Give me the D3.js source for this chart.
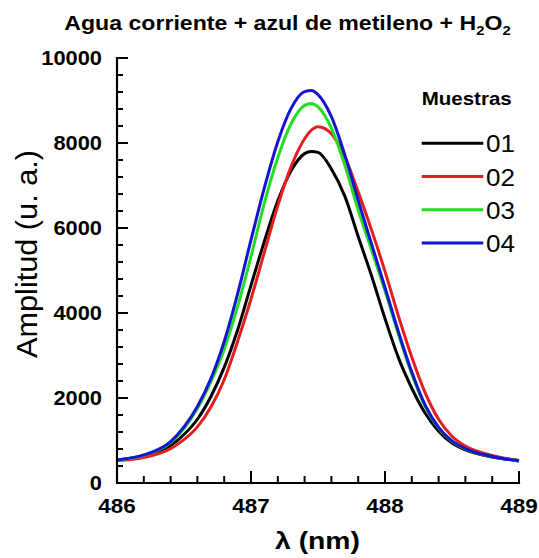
<!DOCTYPE html>
<html>
<head>
<meta charset="utf-8">
<script src="https://cdn.jsdelivr.net/npm/d3@7/dist/d3.min.js"></script>
<style>
  html, body { margin: 0; padding: 0; background: #fff; }
  svg { display: block; }
  text { font-family: "Liberation Sans", Arial, sans-serif; fill: #000; }
</style>
</head>
<body>
<svg id="chart" width="539" height="558"></svg>
<script>
// ---- data ----
const wavelength = [486.0, 486.2, 486.4, 486.5, 486.6, 486.7, 486.8, 486.9, 487.0, 487.1, 487.2, 487.3, 487.4, 487.45, 487.5, 487.6, 487.7, 487.8, 487.9, 488.0, 488.1, 488.2, 488.3, 488.4, 488.5, 488.6, 488.8, 489.0];
const muestra01 = [540, 640, 880, 1140, 1500, 2030, 2720, 3600, 4650, 5690, 6640, 7350, 7750, 7800, 7780, 7390, 6750, 5800, 4870, 3870, 2950, 2230, 1640, 1220, 940, 780, 610, 530];
const muestra02 = [530, 600, 810, 1020, 1320, 1780, 2430, 3330, 4330, 5430, 6530, 7450, 8100, 8300, 8385, 8220, 7680, 6850, 5950, 4980, 3930, 2960, 2120, 1500, 1100, 870, 650, 530];
const muestra03 = [540, 650, 950, 1280, 1750, 2380, 3150, 4150, 5330, 6590, 7660, 8460, 8885, 8930, 8850, 8350, 7480, 6420, 5480, 4520, 3500, 2560, 1800, 1290, 980, 800, 620, 520];
const muestra04 = [540, 660, 975, 1320, 1800, 2450, 3330, 4450, 5720, 6950, 8030, 8820, 9210, 9235, 9140, 8620, 7720, 6650, 5620, 4600, 3560, 2610, 1830, 1310, 990, 810, 625, 520];
const seriesNames = ["01", "02", "03", "04"];
const seriesColors = ["#000000", "#e41e1e", "#22dd22", "#1414d2"];
const yMajorTicks = [0, 2000, 4000, 6000, 8000, 10000];
const xMajorTicks = [486, 487, 488, 489];
const titleMain = "Agua corriente + azul de metileno + H";
const yLabel = "Amplitud (u. a.)";
const xLabel = "λ (nm)";
const legendTitle = "Muestras";

const seriesValues = [muestra01, muestra02, muestra03, muestra04];
const SX = 1.12; // horizontal stretch of the reference text

const svg = d3.select("#chart");
const x = d3.scaleLinear().domain([486, 489]).range([117, 519]);
const y = d3.scaleLinear().domain([0, 10000]).range([483, 58]);

// ---- curves ----
const line = d3.line()
  .x((d, i) => x(wavelength[i]))
  .y(d => y(d))
  .curve(d3.curveMonotoneX);

seriesValues.forEach((vals, k) => {
  svg.append("path")
    .attr("d", line(vals))
    .attr("fill", "none")
    .attr("stroke", seriesColors[k])
    .attr("stroke-width", 3)
    .attr("stroke-linejoin", "round");
});

// ---- axes ----
const g = svg.append("g").attr("stroke", "#000").attr("fill", "none");
g.append("path").attr("d", `M${x(486)},${y(10000)}V${y(0)}H${x(489)}`)
  .attr("stroke-width", 2.2).attr("stroke-linecap", "square");

const yMinor = d3.range(0, 10001, 400).filter(v => v % 2000 !== 0);
const xMinor = d3.range(0, 16).map(i => 486 + i * 0.2).filter(v => Math.abs(v - Math.round(v)) > 1e-6);

yMajorTicks.forEach(v => g.append("line").attr("x1", x(486)).attr("x2", x(486) + 11)
  .attr("y1", y(v)).attr("y2", y(v)).attr("stroke-width", 2));
yMinor.forEach(v => g.append("line").attr("x1", x(486)).attr("x2", x(486) + 6)
  .attr("y1", y(v)).attr("y2", y(v)).attr("stroke-width", 2));
xMajorTicks.forEach(v => g.append("line").attr("x1", x(v)).attr("x2", x(v))
  .attr("y1", y(0)).attr("y2", y(0) - 12).attr("stroke-width", 2));
xMinor.forEach(v => g.append("line").attr("x1", x(v)).attr("x2", x(v))
  .attr("y1", y(0)).attr("y2", y(0) - 7).attr("stroke-width", 2));

// tick labels
yMajorTicks.forEach(v => {
  svg.append("text")
    .attr("transform", `translate(102,${y(v) + 7}) scale(${SX},1)`)
    .attr("text-anchor", "end")
    .attr("font-size", 19.5).attr("font-weight", "bold")
    .text(v);
});
xMajorTicks.forEach(v => {
  svg.append("text")
    .attr("transform", `translate(${x(v)},513) scale(${SX},1)`)
    .attr("text-anchor", "middle")
    .attr("font-size", 20).attr("font-weight", "bold")
    .text(v);
});

// ---- title ----
const t = svg.append("text")
  .attr("transform", `translate(287.5,30) scale(1.1,1)`)
  .attr("text-anchor", "middle")
  .attr("font-size", 21).attr("font-weight", "bold");
t.append("tspan").text(titleMain);
t.append("tspan").attr("font-size", 13.5).attr("dy", 5).text("2");
t.append("tspan").attr("dy", -5).text("O");
t.append("tspan").attr("font-size", 13.5).attr("dy", 5).text("2");

// ---- axis labels ----
svg.append("text")
  .attr("transform", "translate(37,254) rotate(-90)")
  .attr("text-anchor", "middle")
  .attr("font-size", 29)
  .attr("textLength", 208).attr("lengthAdjust", "spacingAndGlyphs")
  .text(yLabel);

svg.append("text")
  .attr("x", 275).attr("y", 549)
  .attr("font-size", 23).attr("font-weight", "bold")
  .attr("textLength", 85).attr("lengthAdjust", "spacingAndGlyphs")
  .text(xLabel);

// ---- legend ----
svg.append("text")
  .attr("x", 421.7).attr("y", 105)
  .attr("font-size", 18).attr("font-weight", "bold")
  .attr("textLength", 90).attr("lengthAdjust", "spacingAndGlyphs")
  .text(legendTitle);

seriesNames.forEach((name, k) => {
  const ly = 143.3 + k * 33.2;
  svg.append("line").attr("x1", 421.7).attr("x2", 483.3).attr("y1", ly).attr("y2", ly)
    .attr("stroke", seriesColors[k]).attr("stroke-width", 3);
  svg.append("text")
    .attr("x", 486).attr("y", ly + 9)
    .attr("font-size", 24)
    .attr("textLength", 29).attr("lengthAdjust", "spacingAndGlyphs")
    .text(name);
});
</script>
</body>
</html>
